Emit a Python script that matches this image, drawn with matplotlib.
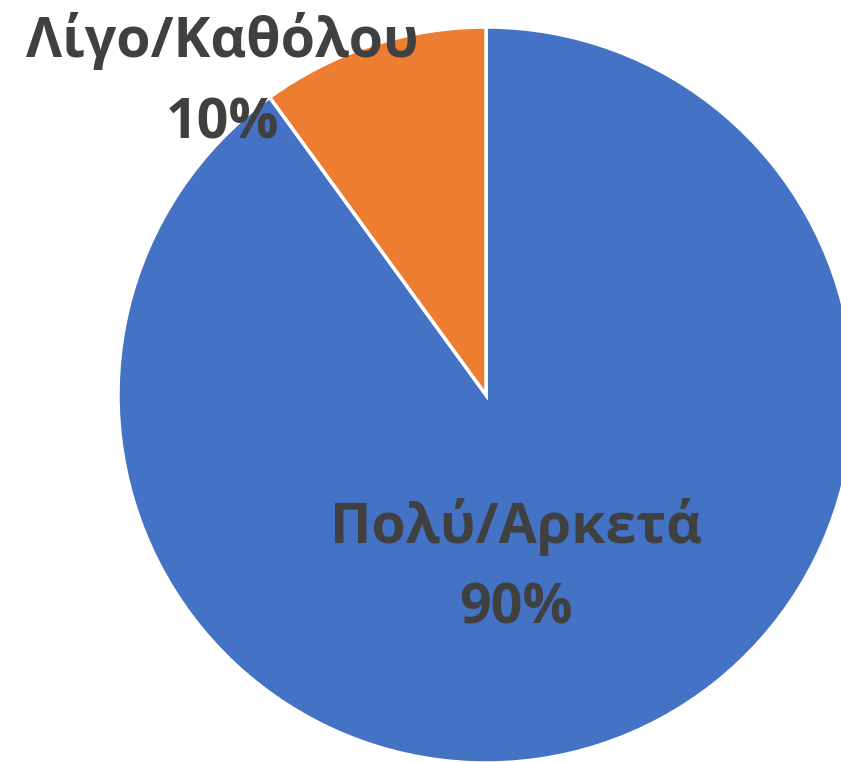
import matplotlib
matplotlib.use("Agg")
import matplotlib.pyplot as plt

categories = ["Πολύ/Αρκετά", "Λίγο/Καθόλου"]
values = [90, 10]
colors = ["#4472C4", "#ED7D31"]

W, H = 841, 762
cx, cy, R = 486, 395, 368

fig = plt.figure(figsize=(W / 100, H / 100), dpi=100)
ax = fig.add_axes([0, 0, 1, 1])
ax.pie(values, colors=colors, startangle=90, counterclock=False, radius=1,
       wedgeprops=dict(edgecolor="white", linewidth=2.5))
ax.set_xlim(-cx / R, (W - cx) / R)
ax.set_ylim(-(H - cy) / R, cy / R)
ax.set_aspect("equal")
ax.axis("off")

font = dict(family=["Open Sans", "DejaVu Sans"], fontweight="bold", color="#404040", fontsize=40)
total = sum(values)
# label positions (x center, baseline of name line, baseline of percent line), data units
pos = [(0.0815, -0.402, -0.620), (-0.717, 0.918, 0.698)]
for cat, v, (x, y1, y2) in zip(categories, values, pos):
    ax.text(x, y1, cat, ha="center", va="baseline", **font)
    ax.text(x, y2, f"{round(100 * v / total)}%", ha="center", va="baseline", **font)

fig.savefig("out.png", dpi=100)
